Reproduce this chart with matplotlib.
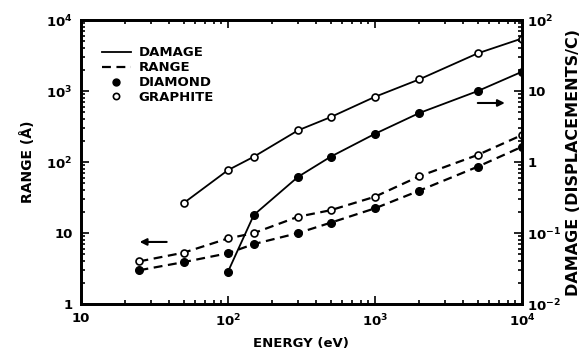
import matplotlib.pyplot as plt
import numpy as np
from matplotlib.lines import Line2D
from matplotlib.ticker import LogLocator, FixedLocator, NullFormatter

# dati
energy_damage_graphite = [50, 100, 150, 300, 500, 1000, 2000, 5000, 10000]
damage_graphite = [0.265, 0.77, 1.19, 2.8, 4.3, 8.3, 14.6, 34, 55]

energy_damage_diamond = [100, 150, 300, 500, 1000, 2000, 5000, 10000]
damage_diamond = [0.0285, 0.18, 0.62, 1.19, 2.5, 4.9, 10, 18.7]

energy_range = [25, 50, 100, 150, 300, 500, 1000, 2000, 5000, 10000]
range_graphite = [4.0, 5.3, 8.4, 10, 17, 21, 32.5, 63, 126, 240]
range_diamond = [3.0, 3.9, 5.2, 7.0, 10, 14, 22.3, 39.5, 86, 164]

x_ticks = [10, 100, 1000, 10000]
x_labels = ['10', '10$^2$', '10$^3$', '10$^4$']
left_ticks = [1, 10, 100, 1000, 10000]
left_labels = ['1', '10', '10$^2$', '10$^3$', '10$^4$']
right_ticks = [0.01, 0.1, 1, 10, 100]
right_labels = ['10$^{-2}$', '10$^{-1}$', '1', '10', '10$^2$']

plt.rcParams['font.family'] = 'DejaVu Sans'
plt.rcParams['font.weight'] = 'bold'
plt.rcParams['axes.labelweight'] = 'bold'

fig = plt.figure(figsize=(5.87, 3.59), dpi=100)
ax = fig.add_axes([0.138, 0.153, 0.751, 0.791])
ax2 = ax.twinx()

ms = 5
# range (asse sinistro)
ax.plot(energy_range, range_graphite, '--', color='black', lw=1.6, dashes=(4, 2.5),
        marker='o', mfc='white', mec='black', mew=1.2, ms=ms)
ax.plot(energy_range, range_diamond, '--', color='black', lw=1.6, dashes=(4, 2.5),
        marker='o', mfc='black', mec='black', ms=ms + 0.5)

# damage (asse destro)
ax2.plot(energy_damage_graphite, damage_graphite, '-', color='black', lw=1.3,
         marker='o', mfc='white', mec='black', mew=1.2, ms=ms)
ax2.plot(energy_damage_diamond, damage_diamond, '-', color='black', lw=1.3,
         marker='o', mfc='black', mec='black', ms=ms + 0.5)

for a in (ax, ax2):
    a.set_xscale('log')
    a.set_yscale('log')
    a.set_xlim(10, 10000)

ax.set_ylim(1, 10000)
ax2.set_ylim(0.01, 100)

ax.xaxis.set_major_locator(FixedLocator(x_ticks))
ax.set_xticklabels(x_labels, fontsize=9.5)
ax.yaxis.set_major_locator(FixedLocator(left_ticks))
ax.set_yticklabels(left_labels, fontsize=9.5)
ax2.yaxis.set_major_locator(FixedLocator(right_ticks))
ax2.set_yticklabels(right_labels, fontsize=9.5)

ax.xaxis.set_minor_locator(LogLocator(base=10, subs=np.arange(2, 10), numticks=20))
ax.yaxis.set_minor_locator(LogLocator(base=10, subs=np.arange(2, 10), numticks=20))
ax2.yaxis.set_minor_locator(LogLocator(base=10, subs=np.arange(2, 10), numticks=20))
for a in (ax, ax2):
    a.xaxis.set_minor_formatter(NullFormatter())
    a.yaxis.set_minor_formatter(NullFormatter())

ax.tick_params(which='both', direction='in', top=True, right=False, width=1.2)
ax.tick_params(which='major', length=6, pad=6)
ax.tick_params(which='minor', length=3)
ax2.tick_params(which='both', direction='in', width=1.2)
ax2.tick_params(which='major', length=6, pad=4)
ax2.tick_params(which='minor', length=3)

for a in (ax, ax2):
    for s in a.spines.values():
        s.set_linewidth(2)

ax.set_xlabel('ENERGY (eV)', fontsize=9.5, labelpad=6)
ax.set_ylabel('RANGE (Å)', fontsize=10, labelpad=8)
ax2.set_ylabel('DAMAGE (DISPLACEMENTS/C)', fontsize=11.5, labelpad=3)

# frecce
ax.annotate('', xy=(24, 7.5), xytext=(40, 7.5),
            arrowprops=dict(arrowstyle='-|>', color='black', lw=1.5, mutation_scale=10))
ax2.annotate('', xy=(8000, 6.8), xytext=(4800, 6.8),
             arrowprops=dict(arrowstyle='-|>', color='black', lw=1.5, mutation_scale=10))

handles = [
    Line2D([], [], color='black', lw=1.3, ls='-'),
    Line2D([], [], color='black', lw=1.6, ls='--', dashes=(4, 2.5)),
    Line2D([], [], color='black', ls='none', marker='o', mfc='black', ms=ms),
    Line2D([], [], color='black', ls='none', marker='o', mfc='white', mew=1.2, ms=ms - 0.5),
]
ax2.legend(handles, ['DAMAGE', 'RANGE', 'DIAMOND', 'GRAPHITE'], loc='upper left',
           bbox_to_anchor=(0.02, 0.95), frameon=False, handlelength=2.2,
           labelspacing=0.15, handletextpad=0.6, prop={'size': 9.5, 'weight': 'bold'})

plt.savefig('out.png', dpi=100)
